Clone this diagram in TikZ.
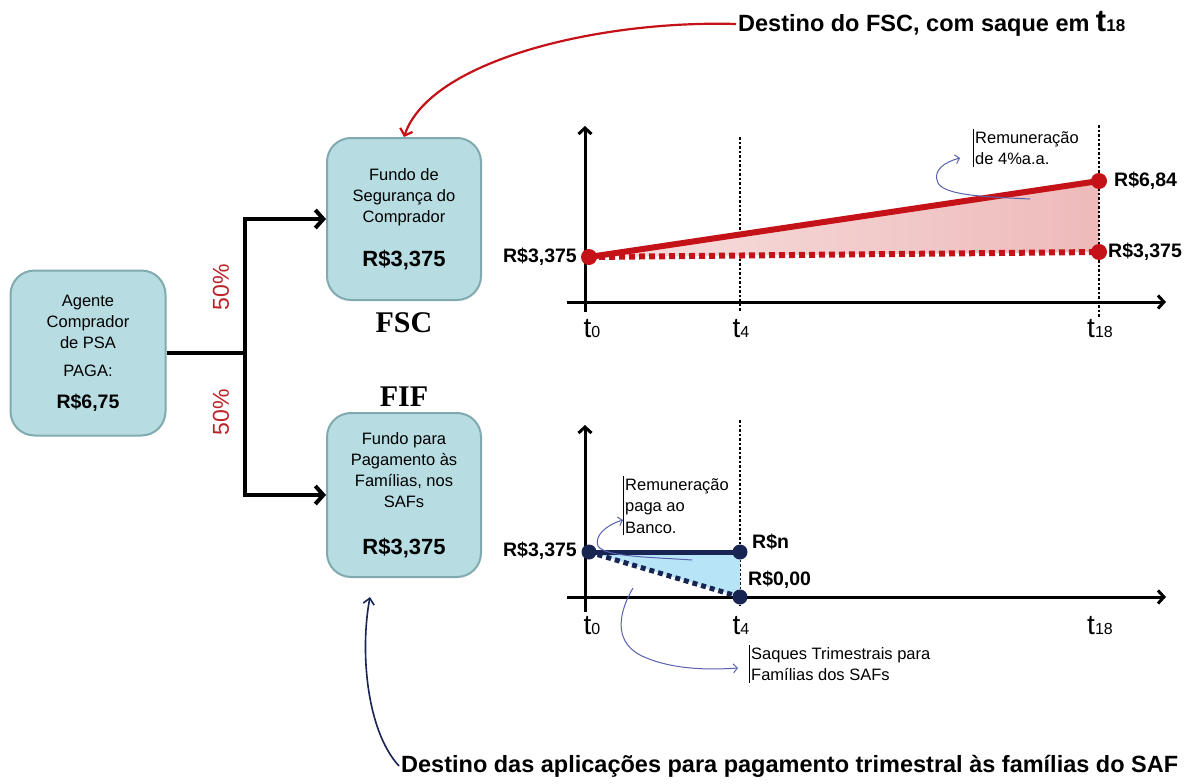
\documentclass[tikz,border=0pt]{standalone}
\usepackage{fontspec}
\setmainfont{Liberation Sans}
\newfontfamily\tagfont{Liberation Serif}
\usepackage{xcolor}
\usetikzlibrary{arrows.meta,positioning,calc}

\definecolor{boxfill}{RGB}{183,221,226}
\definecolor{boxline}{RGB}{128,170,176}
\definecolor{fscred}{RGB}{196,18,24}
\definecolor{fscpink}{RGB}{238,186,186}
\definecolor{fifnavy}{RGB}{24,36,82}
\definecolor{fifsky}{RGB}{184,228,248}
\definecolor{noteblue}{RGB}{88,98,172}
\definecolor{pctred}{RGB}{186,36,40}

\newcommand{\tmark}[1]{{\fontsize{28}{28}\selectfont t}{\fontsize{16}{16}\selectfont #1}}
\newcommand{\tmarkbig}[1]{{\fontsize{31}{31}\selectfont t}{\fontsize{17}{17}\selectfont #1}}

\begin{document}
\begin{tikzpicture}[x=1pt, y=-1pt,
    fundbox/.style={draw=boxline, line width=2pt, fill=boxfill, rounded corners=24pt,
        minimum width=154pt, minimum height=162pt, align=center,
        font=\fontsize{16.5}{21}\selectfont},
    flow/.style={line width=4pt, -{Straight Barb[length=8pt,width=18pt]}},
    axisline/.style={line width=3pt, -{Straight Barb[length=6pt,width=13pt]}},
    tline/.style={line width=2pt, dash pattern=on 2.5pt off 2pt},
    money/.style={font=\fontsize{19.5}{22}\selectfont\bfseries, inner sep=2pt},
    notetext/.style={font=\fontsize{16.5}{21.5}\selectfont, align=left, inner sep=2pt},
    noteline/.style={noteblue, line width=1pt, -{Straight Barb[length=4pt,width=9pt]}},
    titletext/.style={font=\fontsize{23.5}{26}\selectfont\bfseries, inner sep=2pt},
    pcttext/.style={font=\fontsize{23}{23}\selectfont, text=pctred, rotate=90},
    tagtext/.style={font=\fontsize{30}{30}\selectfont\tagfont\bfseries}]

\fill[white] (0,0) rectangle (1187,784);
\useasboundingbox (0,0) rectangle (1187,784);

% fundos
\node[fundbox, minimum width=155pt, minimum height=165pt] (agente) at (88,353)
    {Agente\\Comprador\\de PSA\\[7pt]PAGA:\\[11pt]{\fontsize{19.5}{21}\selectfont\bfseries R\$6,75}};
\node[fundbox] (fsc) at (404,219)
    {Fundo de\\Segurança do\\Comprador\\[23pt]{\fontsize{22}{21}\selectfont\bfseries R\$3,375}};
\node[fundbox, minimum height=164pt] (fif) at (404,495)
    {Fundo para\\Pagamento às\\Famílias, nos\\SAFs\\[26pt]{\fontsize{22}{21}\selectfont\bfseries R\$3,375}};
\node[tagtext] (fsctag) at (404,323) {FSC};
\node[tagtext] (fiftag) at (404,397) {FIF};

% divisao 50/50
\coordinate (split) at (245,353);
\draw[line width=4pt] (agente.east) -- (split);
\draw[flow] (split) |- (fsc.west);
\draw[flow] (split) |- (fif.west);
\node[pcttext] (pcttop) at (221,287) {50\%};
\node[pcttext] (pctbot) at (221,412) {50\%};

% grafico FSC
\draw[tline] (740,137) -- (740,312);
\shade[left color=fscpink!45, right color=fscpink] (589,257) -- (1099,181) -- (1099,252) -- cycle;
\draw[tline] (1099,125) -- (1099,318);
\draw[axisline] (585,312) -- (585,126);
\draw[axisline] (567,302) -- (1166,302);
\draw[fscred, line width=6pt, dash pattern=on 6pt off 4pt] (589,257) -- (1099,252);
\draw[fscred, line width=6pt] (589,257) -- (1099,181);
\foreach \p in {(589,257),(1099,181),(1099,252)} \fill[fscred] \p circle (8);
\node[money, anchor=east] (fscstart) at (579,257) {R\$3,375};
\node[money, anchor=west] (fsctop) at (1112,181) {R\$6,84};
\node[money, anchor=west] (fscbase) at (1106,252) {R\$3,375};
\node[anchor=base] (ta0) at (592,337) {\tmark{0}};
\node[anchor=base] (ta4) at (741,337) {\tmark{4}};
\node[anchor=base] (ta18) at (1100,337) {\tmark{18}};
\node[notetext, anchor=north west] (remfsc) at (973,129) {Remuneração\\de 4\%a.a.};
\draw[line width=0.8pt] (remfsc.north west) -- (remfsc.south west);
\draw[noteline] (1030,199) .. controls (990,197) and (945,196) .. (938,183)
    .. controls (932,170) and (945,162) .. (960,158);

% grafico FIF
\draw[tline] (740,420) -- (740,606);
\fill[fifsky] (589,552) -- (740,552) -- (740,597) -- cycle;
\draw[axisline] (585,612) -- (585,425);
\draw[axisline] (567,597) -- (1166,597);
\draw[fifnavy, line width=5pt, dash pattern=on 5pt off 4pt] (589,552) -- (740,597);
\draw[fifnavy, line width=5pt] (589,552) -- (740,552);
\foreach \p in {(589,552),(740,552),(740,597)} \fill[fifnavy] \p circle (7.5);
\node[money, anchor=east] (fifstart) at (579,551) {R\$3,375};
\node[money, anchor=west] (fiftop) at (750,542) {R\$n};
\node[money, anchor=west] (fifzero) at (746,580) {R\$0,00};
\node[anchor=base] (tb0) at (592,634) {\tmark{0}};
\node[anchor=base] (tb4) at (741,634) {\tmark{4}};
\node[anchor=base] (tb18) at (1100,634) {\tmark{18}};
\node[notetext, anchor=north west] (remfif) at (623,476) {Remuneração\\paga ao\\Banco.};
\draw[line width=0.8pt] (remfif.north west) -- (remfif.south west);
\draw[noteline] (692,560) .. controls (650,557) and (605,557) .. (598,546)
    .. controls (594,536) and (606,525) .. (623,520);
\node[notetext, anchor=north west] (saques) at (749,645) {Saques Trimestrais para\\Famílias dos SAFs};
\draw[line width=0.8pt] (saques.north west) -- (saques.south west);
\draw[noteline] (633,588) .. controls (620,610) and (612,640) .. (640,655)
    .. controls (670,670) and (710,670) .. (738,668);

% destinos
\node[titletext, anchor=west] (fsctitle) at (736,24) {Destino do FSC, com saque em \tmarkbig{18}};
\draw[fscred, line width=2.2pt, -{Straight Barb[length=6pt,width=13pt]}] (fsctitle.west)
    .. controls (600,20) and (430,60) .. (fsc.north);
\node[titletext, anchor=west] (fiftitle) at (399,766) {Destino das aplicações para pagamento trimestral às famílias do SAF};
\coordinate (fifmark) at (370,597);
\draw[fifnavy, line width=1.6pt, -{Straight Barb[length=6pt,width=11pt]}] (fiftitle.west)
    .. controls (366,730) and (360,650) .. (fifmark);
\end{tikzpicture}
\end{document}
